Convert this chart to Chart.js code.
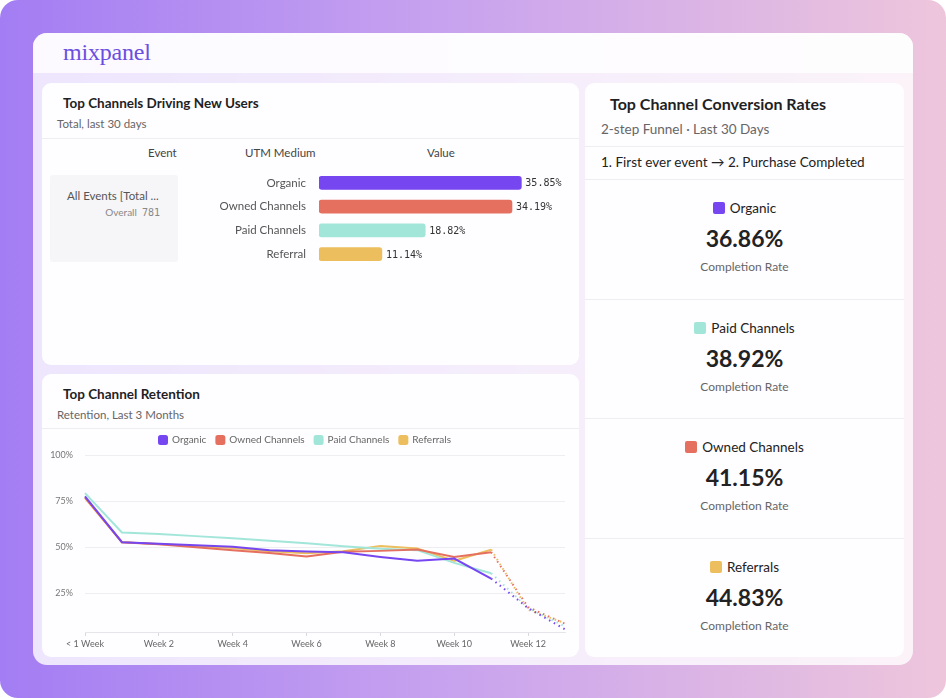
<!DOCTYPE html>
<html>
<head>
<meta charset="utf-8">
<script src="https://cdn.jsdelivr.net/npm/chart.js@4.4.1/dist/chart.umd.min.js"></script>
<style>
  html, body { margin: 0; padding: 0; background: #fff; }
  body { width: 946px; height: 698px; position: relative; overflow: hidden; font-family: Lato, "Open Sans", sans-serif; color: #222; }
  .bg { position: absolute; left: 0; top: 0; width: 946px; height: 698px; border-radius: 18px;
        background: linear-gradient(90deg, #a37df3 0%, #c6a1ef 45%, #eec6dc 100%); }
  .frame { position: absolute; left: 33px; top: 33px; width: 880px; height: 632px; border-radius: 14px;
           background: rgba(255,255,255,0.8); overflow: hidden; }
  .header { position: absolute; left: 0; top: 0; width: 880px; height: 40px; background: rgba(255,255,255,0.8); }
  .logo { position: absolute; left: 30px; top: 6px; font-family: "Liberation Serif", "DejaVu Serif", serif;
          font-size: 24px; color: #6a4fdf; letter-spacing: -0.2px; }
  .card { position: absolute; background: #fefdff; border-radius: 9px; }
  .title { position: absolute; font-weight: 700; font-size: 13.5px; color: #1f1f24; white-space: nowrap; }
  .sub { position: absolute; font-size: 11.5px; color: #666; white-space: nowrap; }
  .divider { position: absolute; height: 1px; background: #efecf2; }
  .colhead { position: absolute; font-size: 11.5px; color: #444; white-space: nowrap; }
  .eventbox { position: absolute; left: 8px; top: 92px; width: 128px; height: 87px; background: #f6f5f8; border-radius: 3px; }
  .stat { position: absolute; left: 0; width: 319px; height: 119px; text-align: center; }
  .stat .lab { position: absolute; left: 0; right: 0; top: 21px; font-size: 13.5px; color: #222; }
  .stat .sw { display: inline-block; width: 12px; height: 12px; border-radius: 2px; vertical-align: -1px; margin-right: 5px; }
  .stat .val { position: absolute; left: 0; right: 0; top: 45px; font-size: 23px; font-weight: 700; color: #222; }
  .stat .cap { position: absolute; left: 0; right: 0; top: 80px; font-size: 12px; color: #666; }
  canvas { position: absolute; }
</style>
</head>
<body>
<div class="bg"></div>
<div class="frame">
  <div class="header"><div class="logo">mixpanel</div></div>
</div>

<!-- top left: new users -->
<div class="card" style="left:42px;top:83px;width:537px;height:282px;">
  <div class="title" style="left:21px;top:12px;">Top Channels Driving New Users</div>
  <div class="sub" style="left:15px;top:34px;">Total, last 30 days</div>
  <div class="divider" style="left:0;top:55px;width:537px;"></div>
  <div class="colhead" style="left:106px;top:63px;">Event</div>
  <div class="colhead" style="left:203px;top:63px;">UTM Medium</div>
  <div class="colhead" style="left:385px;top:63px;">Value</div>
  <div class="eventbox">
    <div style="position:absolute;left:17px;top:14px;font-size:11.5px;color:#555;white-space:nowrap;">All Events [Total ...</div>
    <div style="position:absolute;right:18px;top:31px;font-size:10px;color:#888;white-space:nowrap;">Overall&nbsp;&nbsp;<span style="font-family:'DejaVu Sans Mono',monospace;">781</span></div>
  </div>
</div>
<canvas id="barChart" width="393" height="135" style="left:180px;top:151px;"></canvas>

<!-- bottom left: retention -->
<div class="card" style="left:42px;top:374px;width:537px;height:283px;">
  <div class="title" style="left:21px;top:12px;">Top Channel Retention</div>
  <div class="sub" style="left:15px;top:34px;">Retention, Last 3 Months</div>
  <div class="divider" style="left:0;top:54px;width:537px;"></div>
</div>
<canvas id="lineChart" width="526" height="231" style="left:42px;top:425px;"></canvas>

<!-- right: conversion -->
<div class="card" id="convCard" style="left:585px;top:83px;width:319px;height:574px;">
  <div class="title" style="left:25px;top:11px;font-size:16px;">Top Channel Conversion Rates</div>
  <div class="sub" style="left:16px;top:38px;font-size:13.5px;">2-step Funnel &middot; Last 30 Days</div>
  <div class="divider" style="left:0;top:63px;width:319px;"></div>
  <div class="sub" style="left:16px;top:71px;font-size:13.5px;color:#222;">1. First ever event &#8594; 2. Purchase Completed</div>
  <div class="divider" style="left:0;top:96px;width:319px;"></div>
</div>

<script>
// channel data
const channelsNewUsers = ['Organic', 'Owned Channels', 'Paid Channels', 'Referral'];
const newUserShare = [35.85, 34.19, 18.82, 11.14];
const barColors = ['#7646f1', '#e5705f', '#a2e6da', '#ecbe5d'];

// retention (weekly)
const weekLabels = ['< 1 Week', 'Week 1', 'Week 2', 'Week 3', 'Week 4', 'Week 5', 'Week 6',
  'Week 7', 'Week 8', 'Week 9', 'Week 10', 'Week 11', 'Week 12', 'Week 13'];
const retentionOrganic  = [77.5, 52.7, 51.8, 51.1, 50.2, 48.4, 47.6, 47.2, 44.7, 42.6, 43.8, 33.0, 17.0, 5.4];
const retentionOwned    = [77.0, 52.7, 51.6, 50.0, 48.4, 46.9, 45.0, 47.5, 48.0, 48.8, 44.7, 47.3, 17.5, 8.5];
const retentionPaid     = [79.3, 58.0, 57.1, 56.0, 54.9, 53.5, 52.2, 50.5, 49.2, 48.4, 41.5, 35.9, 17.0, 7.0];
const retentionReferral = [76.6, 52.7, 51.7, 50.5, 49.5, 47.8, 46.7, 47.8, 50.6, 49.3, 42.6, 48.7, 16.0, 8.8];
const retentionYTicks = [25, 50, 75, 100];
const lastCompleteWeek = 11;

// funnel conversion
const convChannels = ['Organic', 'Paid Channels', 'Owned Channels', 'Referrals'];
const convRates = [36.86, 38.92, 41.15, 44.83];
const convColors = ['#7646f1', '#a2e6da', '#e5705f', '#ecbe5d'];

Chart.defaults.font.family = 'Lato, "Open Sans", sans-serif';
Chart.defaults.animation = false;

// labels after each bar
const barValueLabels = {
  id: 'barValueLabels',
  afterDatasetsDraw(chart) {
    const ctx = chart.ctx;
    const meta = chart.getDatasetMeta(0);
    ctx.save();
    ctx.font = '10px "DejaVu Sans Mono", monospace';
    ctx.fillStyle = '#333';
    ctx.textBaseline = 'middle';
    meta.data.forEach((bar, i) => {
      ctx.fillText(newUserShare[i].toFixed(2) + '%', bar.x + 4, bar.y + 1);
    });
    ctx.restore();
  }
};

// tick padding also pads the axis top/bottom, so the canvas is 40px taller than the rows
new Chart(document.getElementById('barChart'), {
  type: 'bar',
  data: {
    labels: channelsNewUsers,
    datasets: [{
      data: newUserShare,
      backgroundColor: barColors,
      borderRadius: 3,
      borderSkipped: false,
      barThickness: 13
    }]
  },
  options: {
    indexAxis: 'y',
    responsive: false,
    layout: { padding: 0 },
    plugins: { legend: { display: false }, tooltip: { enabled: false } },
    scales: {
      x: { display: false, min: 0, max: 45 },
      y: {
        grid: { display: false, drawTicks: false },
        border: { display: false },
        ticks: { color: '#555', font: { size: 11.5 }, padding: 13 },
        afterFit(s) { s.width = 139; }
      }
    }
  },
  plugins: [barValueLabels]
});

// dotted after the last complete week
const dotted = ctx => ctx.p0DataIndex >= lastCompleteWeek ? [1.5, 4] : undefined;
function series(label, data, color) {
  return {
    label, data,
    borderColor: color,
    backgroundColor: color,
    borderWidth: 2,
    pointRadius: 0,
    tension: 0,
    segment: { borderDash: dotted }
  };
}

new Chart(document.getElementById('lineChart'), {
  type: 'line',
  data: {
    labels: weekLabels,
    datasets: [
      series('Organic', retentionOrganic, '#7646f1'),
      series('Owned Channels', retentionOwned, '#e5705f'),
      series('Paid Channels', retentionPaid, '#a2e6da'),
      series('Referrals', retentionReferral, '#ecbe5d')
    ]
  },
  options: {
    responsive: false,
    layout: { padding: 0 },
    plugins: {
      tooltip: { enabled: false },
      legend: {
        labels: {
          boxWidth: 8, boxHeight: 8, padding: 10,
          useBorderRadius: true, borderRadius: 1.5,
          color: '#666', font: { size: 10 }
        }
      }
    },
    scales: {
      x: {
        grid: {
          drawOnChartArea: false,
          tickLength: 4,
          color: c => (c.index % 2 === 0 ? '#d9d9dd' : 'transparent')
        },
        border: { color: '#e6e6ea' },
        ticks: {
          autoSkip: false, maxRotation: 0, padding: 3,
          color: '#666', font: { size: 9 },
          callback: (v, i) => (i % 2 === 0 ? weekLabels[i] : '')
        },
        afterFit(s) { s.height = 24; }
      },
      y: {
        min: 4, max: 100,
        afterBuildTicks(s) { s.ticks = retentionYTicks.map(v => ({ value: v })); },
        grid: { color: '#eeeef1', drawTicks: false },
        border: { display: false },
        ticks: { color: '#777', font: { size: 9 }, padding: 12, callback: v => v + '%' },
        afterFit(s) { s.width = 43; }
      }
    }
  }
});

// conversion stats
const convCard = document.getElementById('convCard');
convChannels.forEach((name, i) => {
  const top = 96 + i * 119.5;
  const el = document.createElement('div');
  el.className = 'stat';
  el.style.top = top + 'px';
  el.innerHTML = '<div class="lab"><span class="sw" style="background:' + convColors[i] + '"></span>' + name + '</div>' +
    '<div class="val">' + convRates[i].toFixed(2) + '%</div>' +
    '<div class="cap">Completion Rate</div>';
  convCard.appendChild(el);
  if (i > 0) {
    const d = document.createElement('div');
    d.className = 'divider';
    d.style.cssText = 'left:0;width:319px;top:' + top + 'px;';
    convCard.appendChild(d);
  }
});
</script>
</body>
</html>
